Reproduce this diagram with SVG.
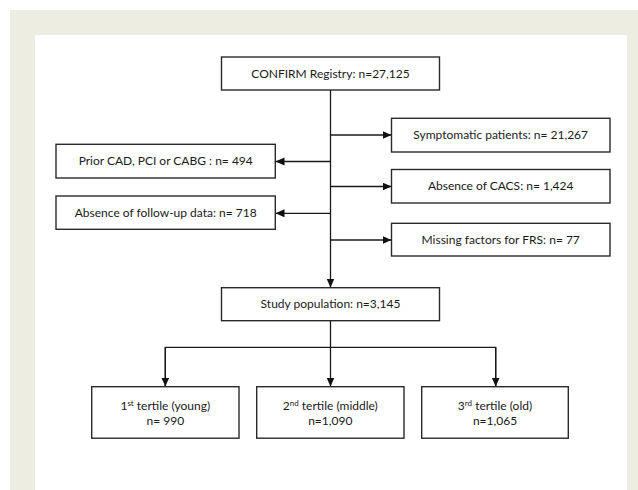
<svg xmlns="http://www.w3.org/2000/svg" width="638" height="490" viewBox="0 0 638 490">
<style>
.box{fill:#ffffff;stroke:#2a2a2a;stroke-width:1.4}
.lbl{font-family:Lato,"Liberation Sans",sans-serif;font-size:12px;fill:#1a1a1a;text-anchor:middle}
.sup{font-size:8px}
.con{stroke:#1a1a1a;stroke-width:1.3;fill:none}
</style>
<defs>
<marker id="arr" markerUnits="userSpaceOnUse" markerWidth="10" markerHeight="9" refX="9" refY="4" orient="auto">
<path d="M0,0 L9,4 L0,8 z" fill="#111"/>
</marker>
</defs>
<rect x="0" y="0" width="638" height="490" fill="#ffffff"/>
<rect x="10" y="10" width="628" height="480" fill="#EEEDE2"/>
<rect x="35" y="35" width="592" height="455" fill="#ffffff"/>
<g id="connectors">
<line class="con" x1="330.5" y1="90" x2="330.5" y2="287.5" marker-end="url(#arr)"/>
<line class="con" x1="330.5" y1="135" x2="391.5" y2="135" marker-end="url(#arr)"/>
<line class="con" x1="330.5" y1="161.5" x2="275.5" y2="161.5" marker-end="url(#arr)"/>
<line class="con" x1="330.5" y1="186.5" x2="391.5" y2="186.5" marker-end="url(#arr)"/>
<line class="con" x1="330.5" y1="213.3" x2="275.5" y2="213.3" marker-end="url(#arr)"/>
<line class="con" x1="330.5" y1="240" x2="391.5" y2="240" marker-end="url(#arr)"/>
<line class="con" x1="330.5" y1="320.7" x2="330.5" y2="386.5" marker-end="url(#arr)"/>
<polyline class="con" points="165.3,386.5 165.3,347.3 495.7,347.3 495.7,386.5"/>
<line class="con" x1="165.3" y1="347.3" x2="165.3" y2="386.5" marker-end="url(#arr)"/>
<line class="con" x1="495.7" y1="347.3" x2="495.7" y2="386.5" marker-end="url(#arr)"/>
</g>
<g id="confirm">
<rect class="box" x="221.5" y="57" width="218" height="33"/>
<text class="lbl" x="330.5" y="77.5">CONFIRM Registry: n=27,125</text>
</g>
<g id="symptomatic">
<rect class="box" x="391.5" y="118.3" width="218.5" height="33.7"/>
<text class="lbl" x="500.7" y="139">Symptomatic patients: n= 21,267</text>
</g>
<g id="prior">
<rect class="box" x="56" y="144.3" width="219.3" height="33.7"/>
<text class="lbl" x="165.7" y="165.3">Prior CAD, PCI or CABG : n= 494</text>
</g>
<g id="cacs">
<rect class="box" x="391.5" y="169.5" width="218.5" height="33.5"/>
<text class="lbl" x="500.7" y="190.3">Absence of CACS: n= 1,424</text>
</g>
<g id="followup">
<rect class="box" x="56" y="196" width="219.3" height="33.3"/>
<text class="lbl" x="165.7" y="217.3">Absence of follow-up data: n= 718</text>
</g>
<g id="missing">
<rect class="box" x="391.5" y="223.3" width="218.5" height="32.7"/>
<text class="lbl" x="500.7" y="244">Missing factors for FRS: n= 77</text>
</g>
<g id="study">
<rect class="box" x="221.5" y="287.7" width="218" height="33"/>
<text class="lbl" x="330.5" y="308.3">Study population: n=3,145</text>
</g>
<g id="tertile1">
<rect class="box" x="91.7" y="386.7" width="147.3" height="51.5"/>
<text class="lbl" x="165.3" y="410">1<tspan class="sup" dy="-4">st</tspan><tspan dy="4"> tertile (young)</tspan></text>
<text class="lbl" x="165.3" y="425">n= 990</text>
</g>
<g id="tertile2">
<rect class="box" x="256.7" y="386.7" width="147.3" height="51.5"/>
<text class="lbl" x="330.3" y="410">2<tspan class="sup" dy="-4">nd</tspan><tspan dy="4"> tertile (middle)</tspan></text>
<text class="lbl" x="330.3" y="425">n=1,090</text>
</g>
<g id="tertile3">
<rect class="box" x="421.7" y="386.7" width="146.6" height="51.5"/>
<text class="lbl" x="495" y="410">3<tspan class="sup" dy="-4">rd</tspan><tspan dy="4"> tertile (old)</tspan></text>
<text class="lbl" x="495" y="425">n=1,065</text>
</g>
</svg>
